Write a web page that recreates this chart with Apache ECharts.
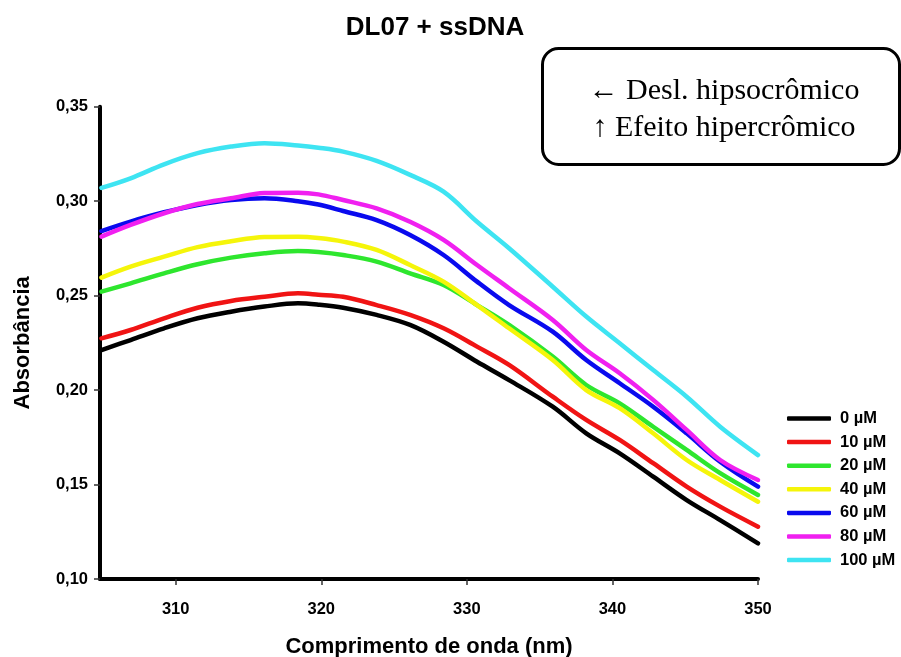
<!DOCTYPE html>
<html>
<head>
<meta charset="utf-8">
<script src="https://cdn.jsdelivr.net/npm/echarts@6/dist/echarts.min.js"></script>
<style>
  html, body { margin: 0; padding: 0; background: #ffffff; }
  #chart { width: 901px; height: 657px; }
</style>
</head>
<body>
<div id="chart"></div>
<script>
// Wavelengths (nm) at which the spectra are sampled
const wavelengths = [304.9, 306.9, 309.2, 311.5, 313.8, 316.1, 318.4, 319.8, 321.5, 323.8, 326.1,
                     328.4, 330.7, 332.9, 335.9, 338.2, 340.5, 342.8, 345.1, 347.4, 350.0];

// Absorbance of DL07 for each ssDNA concentration
const abs0   = [0.2212, 0.2265, 0.2327, 0.2380, 0.2415, 0.2442, 0.2459, 0.2452, 0.2436, 0.2398, 0.2345,
                0.2256, 0.2150, 0.2053, 0.1912, 0.1771, 0.1665, 0.1542, 0.1418, 0.1312, 0.1189];
const abs10  = [0.2274, 0.2318, 0.2380, 0.2436, 0.2472, 0.2494, 0.2512, 0.2505, 0.2494, 0.2450, 0.2398,
                0.2327, 0.2230, 0.2133, 0.1965, 0.1842, 0.1736, 0.1613, 0.1489, 0.1383, 0.1277];
const abs20  = [0.2521, 0.2565, 0.2618, 0.2666, 0.2701, 0.2724, 0.2736, 0.2731, 0.2715, 0.2680, 0.2618,
                0.2556, 0.2450, 0.2345, 0.2177, 0.2027, 0.1930, 0.1806, 0.1683, 0.1560, 0.1445];
const abs40  = [0.2595, 0.2653, 0.2706, 0.2757, 0.2788, 0.2810, 0.2812, 0.2805, 0.2786, 0.2742, 0.2662,
                0.2574, 0.2450, 0.2327, 0.2159, 0.2000, 0.1904, 0.1771, 0.1630, 0.1524, 0.1409];
const abs60  = [0.2842, 0.2892, 0.2941, 0.2980, 0.3006, 0.3015, 0.3000, 0.2982, 0.2948, 0.2900, 0.2821,
                0.2715, 0.2574, 0.2450, 0.2309, 0.2159, 0.2036, 0.1912, 0.1771, 0.1621, 0.1489];
const abs80  = [0.2812, 0.2874, 0.2936, 0.2985, 0.3015, 0.3043, 0.3045, 0.3036, 0.3006, 0.2962, 0.2891,
                0.2795, 0.2662, 0.2539, 0.2371, 0.2212, 0.2089, 0.1948, 0.1789, 0.1630, 0.1524];
const abs100 = [0.3070, 0.3121, 0.3195, 0.3254, 0.3289, 0.3307, 0.3295, 0.3283, 0.3262, 0.3213, 0.3139,
                0.3050, 0.2891, 0.2751, 0.2547, 0.2389, 0.2248, 0.2106, 0.1965, 0.1806, 0.1656];

const seriesNames = ['0 µM', '10 µM', '20 µM', '40 µM', '60 µM', '80 µM', '100 µM'];
const seriesValues = [abs0, abs10, abs20, abs40, abs60, abs80, abs100];
const seriesColors = ['#000000', '#f01414', '#2ee62e', '#f5f50a', '#0a0aee', '#f020f0', '#3ee4f2'];

// Axis tick labels
const xTicks = [310, 320, 330, 340, 350];

const chart = echarts.init(document.getElementById('chart'), null, { renderer: 'canvas' });

const boldFont = { fontFamily: 'Liberation Sans, Arial, sans-serif', fontWeight: 'bold', color: '#000' };

chart.setOption({
  animation: false,
  backgroundColor: '#ffffff',
  title: {
    text: 'DL07 + ssDNA',
    left: 430,
    textAlign: 'center',
    top: 10,
    textStyle: Object.assign({ fontSize: 26 }, boldFont)
  },
  legend: {
    orient: 'vertical',
    left: 782,
    top: 405,
    icon: 'roundRect',
    itemWidth: 44,
    itemHeight: 4.5,
    itemGap: 6.6,
    textStyle: Object.assign({ fontSize: 16.5, lineHeight: 16.5, padding: [0, 0, 0, 4] }, boldFont),
    data: seriesNames
  },
  grid: {
    left: 100, right: 143, top: 106.7, bottom: 78,
    containLabel: false,
    outerBoundsMode: 'none'
  },
  xAxis: {
    type: 'value',
    min: 304.8,
    max: 350,
    name: 'Comprimento de onda (nm)',
    nameLocation: 'middle',
    nameGap: 57,
    nameTextStyle: Object.assign({ fontSize: 22 }, boldFont),
    axisLine: { show: true, onZero: false, lineStyle: { color: '#000', width: 4 } },
    axisTick: { show: true, customValues: xTicks, length: 6, lineStyle: { color: '#333', width: 1.5 } },
    axisLabel: Object.assign({ customValues: xTicks, fontSize: 16.5, margin: 22 }, boldFont),
    splitLine: { show: false }
  },
  yAxis: {
    type: 'value',
    min: 0.1,
    max: 0.35,
    interval: 0.05,
    name: 'Absorbância',
    nameLocation: 'middle',
    nameGap: 66,
    nameRotate: 90,
    nameTextStyle: Object.assign({ fontSize: 22 }, boldFont),
    axisLine: { show: true, lineStyle: { color: '#000', width: 4 } },
    axisTick: { show: true, length: 6, lineStyle: { color: '#333', width: 1.5 } },
    axisLabel: Object.assign({
      fontSize: 16.5,
      margin: 12,
      formatter: v => v.toFixed(2).replace('.', ',')
    }, boldFont),
    splitLine: { show: false }
  },
  series: seriesNames.map((name, i) => ({
    name: name,
    type: 'line',
    data: wavelengths.map((w, j) => [w, seriesValues[i][j]]),
    smooth: 0.35,
    showSymbol: false,
    symbol: 'none',
    lineStyle: { color: seriesColors[i], width: 4.5, cap: 'round', join: 'round' },
    itemStyle: { color: seriesColors[i] },
    z: 2 + i
  })),
  graphic: [
    {
      type: 'rect',
      left: 541,
      top: 47,
      shape: { width: 357, height: 116, r: 16 },
      style: { fill: '#ffffff', stroke: '#000000', lineWidth: 3 },
      z: 10
    },
    {
      type: 'text',
      x: 724,
      y: 73,
      style: {
        text: '← Desl. hipsocrômico\n↑ Efeito hipercrômico',
        font: '30px "Liberation Serif", "Times New Roman", serif',
        fill: '#000000',
        lineHeight: 37,
        align: 'center',
        verticalAlign: 'top'
      },
      z: 11
    }
  ]
});
</script>
</body>
</html>
